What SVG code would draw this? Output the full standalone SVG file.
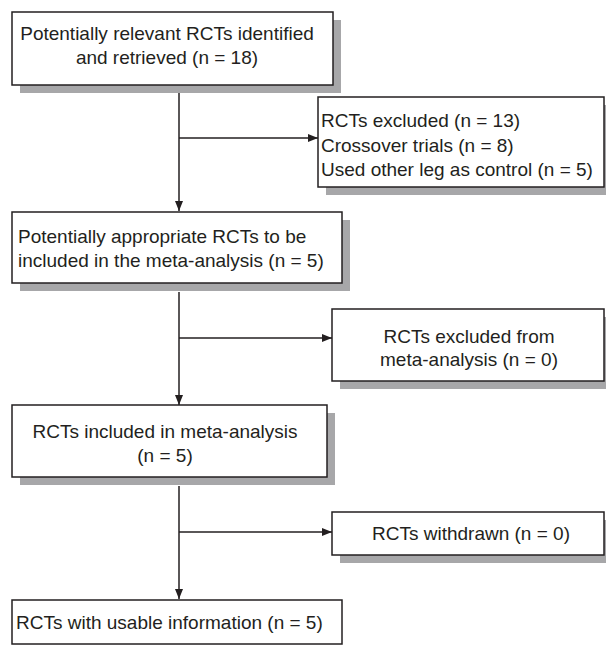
<svg xmlns="http://www.w3.org/2000/svg" width="606" height="645" viewBox="0 0 606 645">
<defs>
<style>
.box{fill:#fff;stroke:#231f20;stroke-width:1.5}
.sh{fill:#a7a7a9}
.t{font-family:"Liberation Sans",Arial,sans-serif;font-size:19px;fill:#231f20}
.c{text-anchor:middle}
.ln{stroke:#231f20;stroke-width:1.5;fill:none}
</style>
<marker id="ah" viewBox="0 0 10 8" refX="10" refY="4" markerWidth="10" markerHeight="8" markerUnits="userSpaceOnUse" orient="auto">
<path d="M0,0 L10,4 L0,8 Z" fill="#231f20"/>
</marker>
</defs>
<rect width="606" height="645" fill="#fff"/>
<g id="connectors">
<line class="ln" x1="179" y1="93" x2="179" y2="211" marker-end="url(#ah)"/>
<line class="ln" x1="179" y1="138" x2="318" y2="138" marker-end="url(#ah)"/>
<line class="ln" x1="179" y1="292" x2="179" y2="405" marker-end="url(#ah)"/>
<line class="ln" x1="179" y1="338" x2="332" y2="338" marker-end="url(#ah)"/>
<line class="ln" x1="179" y1="486" x2="179" y2="599" marker-end="url(#ah)"/>
<line class="ln" x1="179" y1="532" x2="332" y2="532" marker-end="url(#ah)"/>
</g>
<g id="n1">
<rect class="sh" x="20" y="20" width="321" height="73"/>
<rect class="box" x="12" y="12" width="321" height="73"/>
<text class="t c" x="167" y="40">Potentially relevant RCTs identified</text>
<text class="t c" x="167" y="64">and retrieved (n = 18)</text>
</g>
<g id="n2">
<rect class="sh" x="326" y="105" width="290" height="90"/>
<rect class="box" x="318" y="97" width="286" height="90"/>
<text class="t" x="321" y="127">RCTs excluded (n = 13)</text>
<text class="t" x="321" y="152">Crossover trials (n = 8)</text>
<text class="t" x="321" y="176">Used other leg as control (n = 5)</text>
</g>
<g id="n3">
<rect class="sh" x="20" y="220" width="330" height="71"/>
<rect class="box" x="12" y="212" width="330" height="71"/>
<text class="t" x="18" y="243">Potentially appropriate RCTs to be</text>
<text class="t" x="18" y="267">included in the meta-analysis (n = 5)</text>
</g>
<g id="n4">
<rect class="sh" x="340" y="317" width="270" height="72"/>
<rect class="box" x="332" y="309" width="272" height="72"/>
<text class="t c" x="469" y="343">RCTs excluded from</text>
<text class="t c" x="469" y="366">meta-analysis (n = 0)</text>
</g>
<g id="n5">
<rect class="sh" x="20" y="413" width="315" height="72"/>
<rect class="box" x="12" y="405" width="315" height="72"/>
<text class="t c" x="165" y="438">RCTs included in meta-analysis</text>
<text class="t c" x="165" y="462">(n = 5)</text>
</g>
<g id="n6">
<rect class="sh" x="340" y="520" width="270" height="43"/>
<rect class="box" x="332" y="512" width="272" height="43"/>
<text class="t c" x="471" y="540">RCTs withdrawn (n = 0)</text>
</g>
<g id="n7">
<rect class="box" x="12" y="600" width="330" height="44"/>
<text class="t" x="16" y="629">RCTs with usable information (n = 5)</text>
</g>
</svg>
